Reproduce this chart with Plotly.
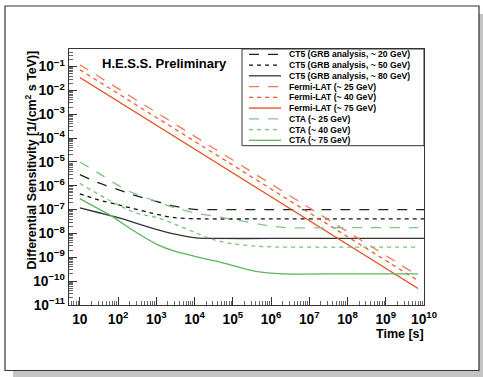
import plotly.graph_objects as go

# ---------------- data ----------------
names = [
    "CT5 (GRB analysis, ~ 20 GeV)",
    "CT5 (GRB analysis, ~ 50 GeV)",
    "CT5 (GRB analysis, ~ 80 GeV)",
    "Fermi-LAT (~ 25 GeV)",
    "Fermi-LAT (~ 40 GeV)",
    "Fermi-LAT (~ 75 GeV)",
    "CTA (~ 25 GeV)",
    "CTA (~ 40 GeV)",
    "CTA (~ 75 GeV)",
]

t_ct5_20 = [10, 30, 100, 300, 1e3, 3e3, 1e4, 3e4, 1e6, 1e8, 1e10]
s_ct5_20 = [2.95e-6, 1.35e-6, 6.9e-7, 3.8e-7, 2.2e-7, 1.4e-7, 1.03e-7, 1.0e-7, 1.0e-7, 1.0e-7, 1.0e-7]

t_ct5_50 = [10, 30, 100, 700, 3e3, 2e4, 1e6, 1e8, 1e10]
s_ct5_50 = [4.6e-7, 2.6e-7, 1.6e-7, 7.4e-8, 4.6e-8, 4.1e-8, 4.1e-8, 4.1e-8, 4.1e-8]

t_ct5_80 = [10, 30, 100, 1e3, 3.3e3, 1.1e4, 3e4, 1e6, 1e8, 1e10]
s_ct5_80 = [1.2e-7, 7.6e-8, 4.6e-8, 1.5e-8, 9.1e-9, 6.5e-9, 6.2e-9, 6.2e-9, 6.2e-9, 6.2e-9]

t_fermi = [10, 7e9]
s_fermi_25 = [0.12, 1.7e-10]
s_fermi_40 = [0.074, 1.05e-10]
s_fermi_75 = [0.035, 4.9e-11]

t_cta_25 = [10, 30, 80, 220, 750, 3e3, 1e4, 1e5, 1.1e6, 3e6, 1e8, 7e9]
s_cta_25 = [1.0e-5, 3.5e-6, 1.3e-6, 5.4e-7, 2.6e-7, 1.2e-7, 7.4e-8, 3.9e-8, 2.0e-8, 1.75e-8, 1.75e-8, 1.75e-8]

t_cta_40 = [10, 30, 100, 300, 1e3, 3e3, 1e4, 3e4, 1e5, 4e5, 1.6e6, 1e8, 7e9]
s_cta_40 = [1.26e-6, 4.5e-7, 1.6e-7, 7.1e-8, 4.7e-8, 2.5e-8, 1.12e-8, 5.6e-9, 3.7e-9, 2.95e-9, 2.7e-9, 2.7e-9, 2.7e-9]

t_cta_75 = [10, 30, 70, 220, 1e3, 3e3, 1.5e4, 5.5e4, 4e5, 2e6, 1e8, 7e9]
s_cta_75 = [2.9e-7, 1.1e-7, 5.2e-8, 1.5e-8, 3.6e-9, 1.8e-9, 9.5e-10, 5.9e-10, 2.6e-10, 2.04e-10, 2.04e-10, 2.04e-10]

times = [t_ct5_20, t_ct5_50, t_ct5_80, t_fermi, t_fermi, t_fermi, t_cta_25, t_cta_40, t_cta_75]
sens = [s_ct5_20, s_ct5_50, s_ct5_80, s_fermi_25, s_fermi_40, s_fermi_75, s_cta_25, s_cta_40, s_cta_75]

# ---------------- styles ----------------
LONG = "10px,9px"
SHORT = "4px,4px"
colors = ["#222222", "#111111", "#333333",
          "#f07a58", "#ec5e30", "#e84a1a",
          "#84c284", "#7cc07c", "#5cb55c"]
dashes = [LONG, SHORT, "solid", LONG, SHORT, "solid", LONG, SHORT, "solid"]
FONT = "Liberation Sans, Arial, Helvetica, sans-serif"

fig = go.Figure()
for name, t, s, c, d in zip(names, times, sens, colors, dashes):
    fig.add_trace(go.Scatter(
        x=t, y=s, name=name, mode="lines",
        line=dict(color=c, width=1.3, dash=d, shape="spline", smoothing=0.8),
        showlegend=False, hoverinfo="skip",
    ))

# plot area in pixels
L, R, T, B = 69, 424, 49, 305
W, H = 483, 377
pw, ph = R - L, B - T


def px(x):
    return (x - L) / pw


def py(y):
    return (B - y) / ph


shapes = []
# drop shadow + frame
shapes.append(dict(type="rect", xref="paper", yref="paper",
                   x0=px(13), x1=px(484), y0=py(378), y1=py(14),
                   fillcolor="#c4c4c4", line=dict(width=0), layer="below"))
shapes.append(dict(type="rect", xref="paper", yref="paper",
                   x0=px(5), x1=px(479), y0=py(370.5), y1=py(6),
                   fillcolor="white", line=dict(color="#333333", width=1.2), layer="below"))
# legend box
shapes.append(dict(type="rect", xref="paper", yref="paper",
                   x0=px(242), x1=1.0, y0=py(145.7), y1=1.0,
                   fillcolor="white", line=dict(color="#333333", width=1), layer="above"))

annotations = []
for i, (name, c, d) in enumerate(zip(names, colors, dashes)):
    yy = py(54.3 + i * 10.75)
    shapes.append(dict(type="line", xref="paper", yref="paper",
                       x0=px(249), x1=px(281), y0=yy, y1=yy,
                       line=dict(color=c, width=1.3, dash=d), layer="above"))
    annotations.append(dict(text=name, xref="paper", yref="paper",
                            x=px(287), y=yy, xanchor="left", yanchor="middle",
                            showarrow=False,
                            font=dict(family=FONT, size=8.6, color="black", weight="bold")))

annotations.append(dict(text="H.E.S.S. Preliminary", xref="paper", yref="paper",
                        x=px(100), y=py(63), xanchor="left", yanchor="middle",
                        showarrow=False,
                        font=dict(family=FONT, size=13, color="black", weight="bold")))
annotations.append(dict(text="Time [s]", xref="paper", yref="paper",
                        x=px(425.5), y=py(334), xanchor="right", yanchor="middle",
                        showarrow=False,
                        font=dict(family=FONT, size=12.5, color="black", weight="bold")))
annotations.append(dict(text="Differential Sensitivity [1/(cm<sup>2</sup> s TeV)]",
                        xref="paper", yref="paper", textangle=-90,
                        x=px(30), y=1.0, xanchor="center", yanchor="top",
                        showarrow=False,
                        font=dict(family=FONT, size=12.4, color="black", weight="bold")))

axis_common = dict(
    type="log", dtick=1, exponentformat="power", showgrid=False, zeroline=False,
    showline=True, linecolor="#333333", linewidth=1, mirror=True,
    ticks="inside", ticklen=8, tickwidth=1, tickcolor="#333333",
    tickfont=dict(family=FONT, size=11, color="black", weight="bold"),
    minor=dict(ticks="inside", ticklen=4, tickwidth=1, tickcolor="#666666", dtick="D1", showgrid=False),
)

fig.update_layout(
    width=W, height=H,
    margin=dict(l=L, r=W - R, t=T, b=H - B, pad=0),
    paper_bgcolor="white", plot_bgcolor="rgba(0,0,0,0)",
    xaxis=dict(range=[0.716, 10], ticklabelstandoff=2, **axis_common),
    yaxis=dict(range=[-11, -0.26], ticklabelstandoff=1, **axis_common),
    shapes=shapes, annotations=annotations,
    showlegend=False, hovermode=False,
)

fig.write_html("out.html", config={"displayModeBar": False, "staticPlot": True},
               post_script="document.body.style.margin='0';document.body.style.padding='0';")
